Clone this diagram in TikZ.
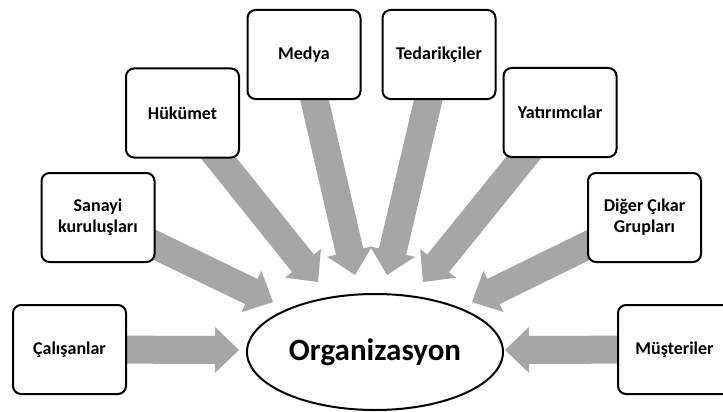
\documentclass[tikz,border=0pt]{standalone}
\usepackage{fontspec}
\setmainfont{Carlito}
\usetikzlibrary{calc,backgrounds,shapes.geometric}
\definecolor{flowgray}{HTML}{A6A6A6}

\tikzset{
  party/.style={draw=black, line width=2pt, rounded corners=8pt, fill=white,
    minimum width=113pt, minimum height=89pt, inner sep=0pt, align=center,
    font=\fontsize{18}{21}\selectfont\bfseries},
  hub/.style={draw=black, line width=2pt, ellipse, fill=white,
    minimum width=256pt, minimum height=116pt, inner sep=0pt,
    font=\fontsize{31}{36}\selectfont\bfseries}
}

% Broad block arrow from the centre of a box (#1) to a tip point (#2):
% shaft 28pt wide, head 46pt wide and 24pt long.
\newcommand\stakeflow[2]{%
  \path ($(#2)!24pt!(#1.center)$) coordinate (hb);
  \fill[flowgray]
    ($(#1.center)!14pt!90:(#2)$) --
    ($(hb)!14pt!-90:(#1.center)$) --
    ($(hb)!23pt!-90:(#1.center)$) --
    (#2) --
    ($(hb)!23pt!90:(#1.center)$) --
    ($(hb)!14pt!90:(#1.center)$) --
    ($(#1.center)!14pt!-90:(#2)$) -- cycle;}

\begin{document}
\begin{tikzpicture}[x=1pt,y=-1pt]
\useasboundingbox (0,0) rectangle (723,412);

% stakeholder boxes
\node[party] (cal) at (69.5,349.5) {Çalışanlar};
\node[party] (san) at (98,217.5)   {Sanayi\\kuruluşları};
\node[party] (huk) at (182.5,113)  {Hükümet};
\node[party] (med) at (304,54.5)   {Medya};
\node[party] (ted) at (439,54.5)   {Tedarikçiler};
\node[party] (yat) at (560,112.5)  {Yatırımcılar};
\node[party] (dig) at (644.5,217.5){Diğer Çıkar\\Grupları};
\node[party] (mus) at (674.5,349.5){Müşteriler};

% central organisation
\node[hub] (org) at (375,352) {Organizasyon};

% arrow tips around the ellipse
\coordinate (tCal) at (239,350);
\coordinate (tSan) at (273,302);
\coordinate (tHuk) at (318,282);
\coordinate (tMed) at (355,275);
\coordinate (tTed) at (387,275);
\coordinate (tYat) at (423,282);
\coordinate (tDig) at (472,302);
\coordinate (tMus) at (505,350);

\begin{scope}[on background layer]
  \fill[white] (0,0) rectangle (723,412);
  \stakeflow{cal}{tCal}
  \stakeflow{san}{tSan}
  \stakeflow{huk}{tHuk}
  \stakeflow{med}{tMed}
  \stakeflow{ted}{tTed}
  \stakeflow{yat}{tYat}
  \stakeflow{dig}{tDig}
  \stakeflow{mus}{tMus}
\end{scope}
\end{tikzpicture}
\end{document}
